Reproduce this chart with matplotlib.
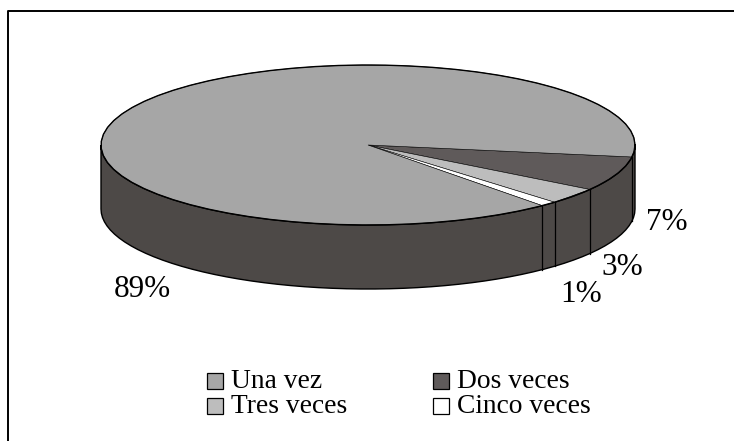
import numpy as np
import matplotlib.pyplot as plt
from matplotlib.patches import Polygon, Rectangle

categories = ["Dos veces", "Tres veces", "Cinco veces", "Una vez"]
values = [7.0, 3.3, 1.0, 88.7]
colors = ["#5f5a5a", "#bdbdbd", "#ffffff", "#a6a6a6"]
pct_labels = ["7%", "3%", "1%", "89%"]
pct_x = [667, 622, 581, 142]
pct_y = [230, 275, 302, 297]

legend_order = ["Una vez", "Dos veces", "Tres veces", "Cinco veces"]
legend_x = [207, 433, 207, 433]
legend_y = [388, 388, 413, 413]

# pie geometry, in pixels
cx, cy = 368, 145
rx, ry = 267, 80
depth = 64
start_angle = -8.6
side_color = "#4d4947"

plt.rcParams['font.family'] = ['Liberation Serif', 'DejaVu Serif']

def rim(a1, a2, n):
    t = np.radians(np.linspace(a1, a2, n))
    return cx + rx*np.cos(t), cy - ry*np.sin(t)

fig = plt.figure(figsize=(7.34, 4.41), dpi=100)
ax = fig.add_axes([0, 0, 1, 1])
ax.set_xlim(0, 734)
ax.set_ylim(441, 0)
ax.axis("off")

# outer frame, only top and left are inside the picture
ax.plot([7.5, 7.5, 734], [441, 11, 11], color="black", lw=1.4, zorder=0)

# side wall
x, y = rim(-180, 0, 60)
ax.add_patch(Polygon(np.r_[np.c_[x, y], np.c_[x[::-1], y[::-1] + depth]], fc=side_color, ec="black", lw=1, zorder=1))

# top slices, clockwise from the start angle
edges = start_angle - np.cumsum([0] + values) * 3.6
for i in range(len(values)):
    a1, a2 = edges[i], edges[i+1]
    x, y = rim(a1, a2, max(int(abs(a1-a2)/5), 2))
    pts = np.r_[[[cx, cy]], np.c_[x, y]]
    ax.add_patch(Polygon(pts, fc=colors[i], ec="black", lw=0.4, zorder=2))
    # divider on the side wall
    ex, ey = rim(a1, a1, 1)
    ax.plot([ex[0], ex[0]], [ey[0], ey[0] + depth], color="black", lw=0.9, zorder=3)

# outline of the rim
x, y = rim(0, 360, 72)
ax.plot(x, y, color="black", lw=1, zorder=3)

for s, px, py in zip(pct_labels, pct_x, pct_y):
    ax.text(px, py, s, fontsize=22.5, ha="center", va="baseline", zorder=4)

for name, lx, ly in zip(legend_order, legend_x, legend_y):
    c = colors[categories.index(name)]
    ax.add_patch(Rectangle((lx, ly - 15), 16, 16, fc=c, ec="black", lw=0.9, zorder=4))
    ax.text(lx + 24, ly, name, fontsize=19.8, ha="left", va="baseline", zorder=4)

fig.savefig("out.png", dpi=100)
